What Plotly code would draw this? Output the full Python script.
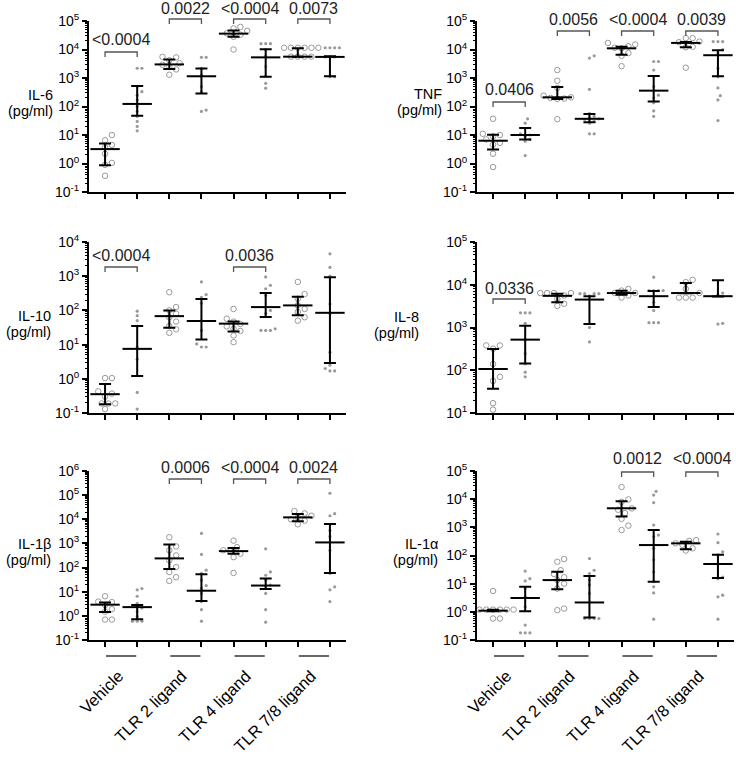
import math
import plotly.graph_objects as go

W, H = 736, 759
FONT = "Arial, Liberation Sans, sans-serif"

categories = ["Vehicle", "TLR 2 ligand", "TLR 4 ligand", "TLR 7/8 ligand"]
panel_titles = ["IL-6", "TNF", "IL-10", "IL-8", "IL-1β", "IL-1α"]
y_exp_ranges = [(-1, 5), (-1, 5), (-1, 4), (1, 5), (-1, 6), (-1, 5)]

# ---------------- data (pg/ml), 8 groups per panel ----------------
il6_points = [
    [10, 6.5, 4.5, 3.7, 2.2, 1.05, 0.9, 0.37],
    [2200, 2200, 500, 330, 250, 170, 100, 67, 45, 30, 20, 14],
    [5500, 5300, 4200, 3300, 2900, 2500, 2000, 1300],
    [5300, 5300, 2200, 1300, 500, 330, 75, 67],
    [62000, 55000, 45000, 37000, 33000, 28000, 10000],
    [16000, 16000, 16000, 10000, 6000, 2500, 1150, 650, 440],
    [11500, 11500, 11500, 11500, 11500, 11500, 5600, 5600, 5600, 5600],
    [11500, 11500, 11500, 11500, 5500, 5500, 5500, 1100, 1100],
]
il6_median = [3.2, 123, 3000, 1150, 36000, 5300, 5600, 5500]
il6_q1 = [0.87, 47, 2050, 285, 28000, 1100, 5600, 1150]
il6_q3 = [5.0, 525, 4500, 2150, 46000, 10300, 11000, 5800]
il6_p = ["<0.0004", "0.0022", "<0.0004", "0.0073"]

tnf_points = [
    [37, 11, 10, 9, 7, 5.3, 4.6, 2.2, 0.75],
    [37, 26, 11, 10, 9, 7, 6, 1.9],
    [1900, 800, 450, 240, 210, 200, 190, 185, 36],
    [6000, 5000, 400, 58, 45, 40, 37, 35, 30, 26, 11, 11],
    [17000, 15000, 13000, 11500, 11000, 7500, 6000, 2600],
    [3800, 3800, 1900, 1150, 500, 250, 200, 135, 70, 45],
    [25000, 25000, 19000, 18000, 12500, 12000, 2300],
    [19000, 19000, 19000, 10000, 7500, 2200, 1100, 450, 240, 170, 32],
]
tnf_median = [6.3, 10, 210, 37, 11000, 360, 17000, 6300]
tnf_q1 = [3.1, 7, 185, 28, 6500, 150, 12000, 1150]
tnf_q3 = [10.3, 17.5, 480, 55, 12500, 1170, 18500, 9500]
tnf_p = ["0.0406", "0.0056", "<0.0004", "0.0039"]

il10_points = [
    [1.05, 1.05, 0.43, 0.37, 0.3, 0.19, 0.19, 0.19, 0.13],
    [95, 70, 50, 35, 8.5, 3.7, 0.4, 0.13],
    [340, 125, 100, 80, 63, 47, 35, 28, 22],
    [680, 290, 240, 160, 50, 26, 10.5, 8.5, 8.5],
    [110, 57, 47, 40, 34, 29, 25, 18.5, 11.8],
    [950, 540, 430, 270, 100, 80, 29, 26, 26, 26],
    [680, 300, 220, 140, 110, 90, 63, 50],
    [4500, 1800, 1000, 155, 80, 6, 2.5, 2, 1.7, 1.7],
]
il10_median = [0.355, 7.5, 68, 49, 41, 125, 140, 85]
il10_q1 = [0.18, 1.2, 31, 14, 24, 64, 72, 2.9]
il10_q3 = [0.71, 35, 100, 215, 47, 320, 250, 930]
il10_p = ["<0.0004", "", "0.0036", ""]

il8_points = [
    [380, 380, 320, 140, 70, 56, 17, 12],
    [2200, 2200, 2200, 1250, 520, 245, 140, 90, 70],
    [6400, 6400, 6400, 6400, 5600, 4700, 3600, 3200],
    [6200, 6200, 6200, 6200, 5500, 1000, 460],
    [8000, 7300, 6400, 6400, 5600, 5000],
    [15000, 7300, 7300, 7300, 7300, 3900, 2500, 1300, 1300, 1300],
    [13000, 11500, 8000, 6400, 5000, 5000, 5000],
    [6400, 5800, 1250, 1200],
]
il8_median = [107, 520, 5500, 4500, 6400, 5400, 6400, 5400]
il8_q1 = [37, 143, 3900, 1200, 5800, 3000, 6300, 5300]
il8_q3 = [315, 1100, 6200, 5400, 7200, 7100, 11000, 12800]
il8_p = ["0.0336", "", "", ""]

il1b_points = [
    [6.5, 3.9, 3.7, 2.8, 1.9, 1.5, 0.7, 0.7],
    [13.5, 12, 6.5, 3.3, 2.1, 1.5, 0.95, 0.6, 0.6, 0.6],
    [1800, 750, 520, 320, 200, 105, 65, 40, 28],
    [2600, 350, 78, 57, 30, 18, 14, 8.5, 3.9, 1.8, 0.6],
    [1300, 700, 520, 480, 375, 270, 60],
    [600, 66, 48, 30, 18.8, 17, 8.5, 1.8, 0.55],
    [22000, 17500, 14000, 12000, 10000, 8800, 6200],
    [120000, 17000, 14000, 3400, 1900, 520, 57, 16, 12, 3.9],
]
il1b_median = [2.9, 2.3, 240, 11, 480, 18, 12000, 1100]
il1b_q1 = [1.45, 0.73, 88, 4.1, 375, 13, 8300, 60]
il1b_q3 = [3.6, 2.8, 910, 53, 650, 35, 16500, 6400]
il1b_p = ["", "0.0006", "<0.0004", "0.0024"]

il1a_points = [
    [5.5, 1.2, 1.2, 1.2, 1.2, 1.2, 1.2, 0.58, 0.58],
    [28, 15, 12.5, 6.7, 3.4, 1.5, 0.34, 0.18, 0.18, 0.18],
    [75, 60, 30, 22, 17, 13.5, 10, 6.7, 1.15, 1.3],
    [78, 30, 23, 13.5, 9, 4.5, 0.58, 0.58, 0.58, 0.58],
    [27000, 9800, 8000, 4700, 4200, 3200, 2000, 1150, 800],
    [19000, 14000, 7500, 1200, 530, 470, 180, 70, 26, 11.7, 7.7, 4.7, 0.55],
    [350, 330, 270, 240, 180, 150],
    [580, 285, 135, 105, 52, 17, 15, 3.9, 3.4, 0.55],
]
il1a_median = [1.1, 3.1, 13.4, 2.15, 4750, 235, 270, 50]
il1a_q1 = [1.05, 1.05, 6.4, 0.63, 2400, 11.7, 165, 16]
il1a_q3 = [1.18, 7.7, 26.5, 18.6, 8500, 800, 310, 107]
il1a_p = ["", "", "0.0012", "<0.0004"]

panels = [
    (il6_points, il6_median, il6_q1, il6_q3, il6_p),
    (tnf_points, tnf_median, tnf_q1, tnf_q3, tnf_p),
    (il10_points, il10_median, il10_q1, il10_q3, il10_p),
    (il8_points, il8_median, il8_q1, il8_q3, il8_p),
    (il1b_points, il1b_median, il1b_q1, il1b_q3, il1b_p),
    (il1a_points, il1a_median, il1a_q1, il1a_q3, il1a_p),
]

# ---------------- layout geometry (pixels) ----------------
col_px = [(89, 346), (477, 734)]
row_px = [(21, 192), (242, 413), (471, 640)]
# bracket line y (px) and text centre y (px) per panel, per pair (None = no bracket)
bracket_px = [
    [(52, 40), (19, 8.5), (19, 8.5), (19, 8.5)],
    [(102, 90), (31, 19), (31, 19), (31, 19)],
    [(267, 255), None, (267, 255), None],
    [(299, 288), None, None, None],
    [None, (479, 467), (479, 467), (479, 467)],
    [None, None, (472, 459), (472, 459)],
]
# y title: right edge x, vertical centre of the two-line block
title_px = [(55, 103), (444, 102), (53, 324), (421, 325), (53, 552), (440, 552)]
TITLE_GAP = 15.5


def px_x(p):
    return p / W


def px_y(p):
    return 1 - p / H


def swarm(values, ppd, lo_exp, diam):
    """Simple beeswarm: returns x offsets (in group units) for each value."""
    ppu = (col_px[0][1] - col_px[0][0]) / 8.0
    order = sorted(range(len(values)), key=lambda i: values[i])
    placed = []
    offs = [0.0] * len(values)
    step = diam * 1.05
    cands = [0]
    for k in range(1, 12):
        cands += [k * step / 2, -k * step / 2]
    for i in order:
        yp = (math.log10(values[i]) - lo_exp) * ppd
        for c in cands:
            ok = True
            for (xo, yo) in placed:
                if (xo - c) ** 2 + (yo - yp) ** 2 < (diam * 0.98) ** 2:
                    ok = False
                    break
            if ok:
                placed.append((c, yp))
                offs[i] = c / ppu
                break
    return offs


fig = go.Figure()
layout = dict(
    width=W, height=H, margin=dict(l=0, r=0, t=0, b=0, autoexpand=False),
    paper_bgcolor="white", plot_bgcolor="white", showlegend=False,
    font=dict(family=FONT, size=13, color="black"),
)
shapes = []
annotations = []

for k, (pts, med, q1, q3, pv) in enumerate(panels):
    n = k + 1
    xa = "x" if n == 1 else f"x{n}"
    ya = "y" if n == 1 else f"y{n}"
    col = k % 2
    row = k // 2
    lo, hi = y_exp_ranges[k]
    ppd = (row_px[row][1] - row_px[row][0]) / (hi - lo)

    ox, oy, dx, dy = [], [], [], []
    for g, vals in enumerate(pts):
        diam = 6.5 if g % 2 == 0 else 4.5
        offs = swarm(vals, ppd, lo, diam)
        for v, o in zip(vals, offs):
            if g % 2 == 0:
                ox.append(g + 1 + o)
                oy.append(v)
            else:
                dx.append(g + 1 + o)
                dy.append(v)
    fig.add_trace(go.Scatter(
        x=ox, y=oy, mode="markers", xaxis=xa, yaxis=ya,
        marker=dict(symbol="circle-open", size=5.5, color="#9a9a9a",
                    line=dict(width=1, color="#9a9a9a")),
        hoverinfo="skip"))
    fig.add_trace(go.Scatter(
        x=dx, y=dy, mode="markers", xaxis=xa, yaxis=ya,
        marker=dict(symbol="circle", size=3.2, color="#9a9a9a"),
        hoverinfo="skip"))
    gx = list(range(1, 9))
    fig.add_trace(go.Scatter(
        x=gx, y=med, mode="markers", xaxis=xa, yaxis=ya,
        marker=dict(symbol="line-ew", size=21, color="black",
                    line=dict(width=2, color="black")),
        error_y=dict(type="data", symmetric=False,
                     array=[b - m for b, m in zip(q3, med)],
                     arrayminus=[m - a for m, a in zip(med, q1)],
                     color="black", thickness=2, width=6),
        hoverinfo="skip"))

    x0p, x1p = col_px[col]
    y0p, y1p = row_px[row]
    tickvals = [10 ** e for e in range(lo, hi + 1)]
    ticktext = [f"10<sup>{e}</sup>" for e in range(lo, hi + 1)]
    minorvals = [m * 10 ** e for e in range(lo, hi) for m in range(2, 10)]
    axkey = "xaxis" if n == 1 else f"xaxis{n}"
    aykey = "yaxis" if n == 1 else f"yaxis{n}"
    layout[axkey] = dict(
        domain=[px_x(x0p), px_x(x1p)], anchor=ya, range=[0.5, 8.5],
        showgrid=False, zeroline=False, showline=True, linecolor="black",
        linewidth=2, ticks="outside", ticklen=5, tickwidth=1.5,
        tickcolor="black", tickvals=gx, showticklabels=False, fixedrange=True,
        automargin=False)
    layout[aykey] = dict(
        domain=[px_y(y1p), px_y(y0p)], anchor=xa, type="log",
        range=[lo, hi], showgrid=False, zeroline=False, showline=True,
        linecolor="black", linewidth=2, ticks="outside", ticklen=5,
        tickwidth=1.5, tickcolor="black", tickmode="array",
        tickvals=tickvals, ticktext=ticktext,
        tickfont=dict(size=14, family=FONT, color="black"),
        minor=dict(tickmode="array", tickvals=minorvals, ticks="outside",
                   ticklen=2.5, tickwidth=1, tickcolor="black"),
        fixedrange=True, automargin=False)

    # significance brackets
    for j, txt in enumerate(pv):
        b = bracket_px[k][j]
        if not txt or b is None:
            continue
        by, ty = b
        xl, xr = 2 * j + 1, 2 * j + 2
        shapes.append(dict(
            type="path", xref=xa, yref="paper",
            path=(f"M {xl},{px_y(by + 5)} L {xl},{px_y(by)} "
                  f"L {xr},{px_y(by)} L {xr},{px_y(by + 5)}"),
            line=dict(color="#555555", width=1.3)))
        annotations.append(dict(
            x=2 * j + 1.5, y=px_y(ty), xref=xa, yref="paper", text=txt,
            showarrow=False, xanchor="center", yanchor="middle",
            font=dict(size=16, family=FONT, color="#222222")))

    # y title (two lines with tight spacing)
    tx, cy = title_px[k]
    for txt, yy in ((panel_titles[k], cy - TITLE_GAP / 2),
                    ("(pg/ml)", cy + TITLE_GAP / 2)):
        annotations.append(dict(
            x=px_x(tx), y=px_y(yy), xref="paper", yref="paper",
            text=txt, showarrow=False,
            xanchor="right", yanchor="middle", align="right",
            font=dict(size=14.5, family=FONT, color="black")))

    # category lines and labels on the bottom row
    if row == 2:
        for j, cat in enumerate(categories):
            shapes.append(dict(
                type="line", xref=xa, yref="paper", x0=2 * j + 1.03,
                x1=2 * j + 1.97, y0=px_y(656), y1=px_y(656),
                line=dict(color="black", width=1.2)))
            annotations.append(dict(
                x=2 * j + 1.75, y=px_y(664), xref=xa, yref="paper",
                text=cat, showarrow=False, textangle=-45,
                xanchor="right", yanchor="top",
                font=dict(size=16.5, family=FONT, color="black")))

layout["shapes"] = shapes
layout["annotations"] = annotations
fig.update_layout(**layout)
fig.write_html(
    "out.html",
    config={"displayModeBar": False},
    post_script="document.body.style.margin='0px';"
                "document.body.style.overflow='hidden';",
)
